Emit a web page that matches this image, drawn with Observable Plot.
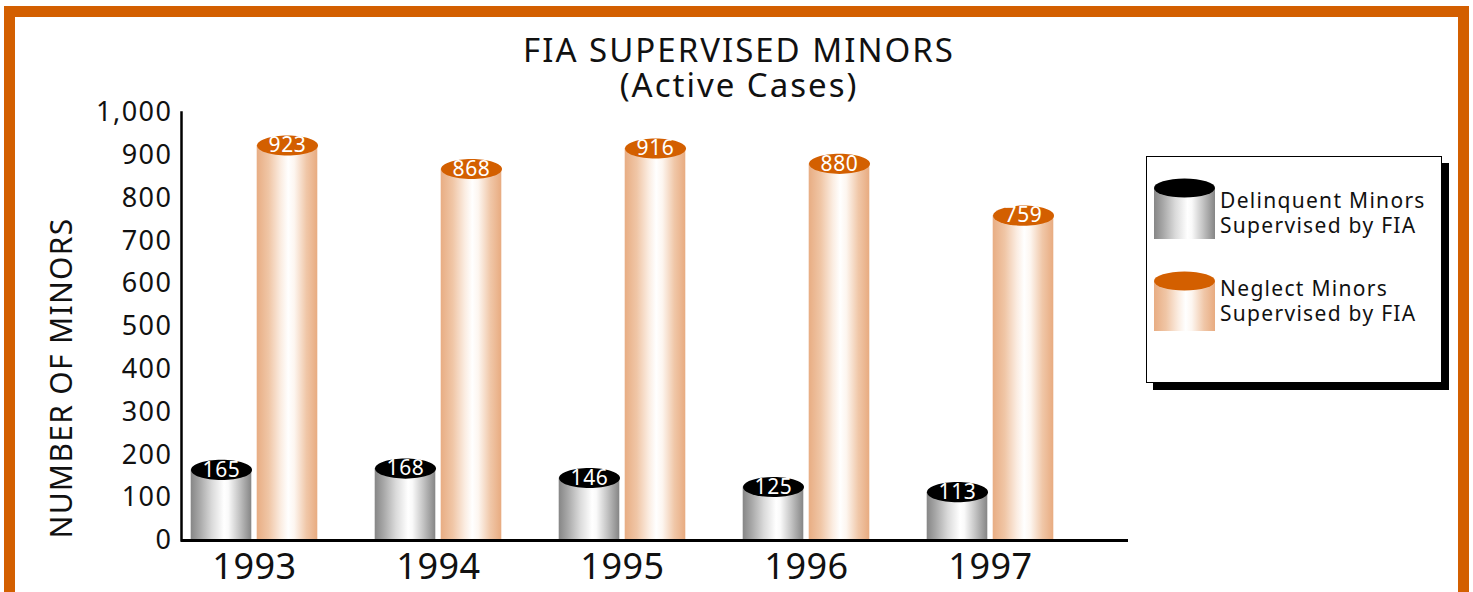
<!DOCTYPE html>
<html>
<head>
<meta charset="utf-8">
<script src="https://cdn.jsdelivr.net/npm/d3@7"></script>
<script src="https://cdn.jsdelivr.net/npm/@observablehq/plot@0.6"></script>
<style>
  html, body { margin: 0; padding: 0; background: #fff; }
  body { width: 1473px; height: 592px; overflow: hidden; position: relative; font-family: "Noto Sans", sans-serif; color: #111; }
  #frame { position: absolute; left: 4px; top: 6px; width: 1465px; height: 700px; border: 11px solid #D35F00; box-sizing: border-box; }
  #chart { position: absolute; left: 0; top: 0; }
  .title { position: absolute; left: 489px; width: 500px; text-align: center; font-size: 33px; line-height: 33px; height: 33px; letter-spacing: 2px; white-space: nowrap; }
  #ylabel { position: absolute; left: 60px; top: 378px; transform: translate(-50%, -50%) rotate(-90deg); font-size: 30px; white-space: nowrap; letter-spacing: 1.3px; }
  #legend { position: absolute; left: 1146px; top: 156px; width: 296px; height: 227px; box-sizing: border-box; border: 1px solid #000; background: #fff; box-shadow: 7px 7px 0 #000; }
</style>
</head>
<body>
<div id="frame"></div>
<div id="chart"></div>
<div class="title" style="top:33px">FIA SUPERVISED MINORS</div>
<div class="title" style="top:68px">(Active Cases)</div>
<div id="ylabel">NUMBER OF MINORS</div>
<div id="legend"></div>
<script>
// ---- data ----
const years = ["1993", "1994", "1995", "1996", "1997"];
const delinquent = [165, 168, 146, 125, 113];
const neglect = [923, 868, 916, 880, 759];
const seriesNames = [["Delinquent Minors", "Supervised by FIA"], ["Neglect Minors", "Supervised by FIA"]];
const yTicks = [0, 100, 200, 300, 400, 500, 600, 700, 800, 900, 1000];

const dRows = years.map((year, i) => ({year, value: delinquent[i]}));
const nRows = years.map((year, i) => ({year, value: neglect[i]}));

const ORANGE = "#D35F00";

// ellipse symbol for cylinder tops
const ellipse = {
  draw(ctx, size) {
    const rx = Math.sqrt(size / Math.PI), ry = rx * 0.33, k = 0.5523;
    ctx.moveTo(rx, 0);
    ctx.bezierCurveTo(rx, ry * k, rx * k, ry, 0, ry);
    ctx.bezierCurveTo(-rx * k, ry, -rx, ry * k, -rx, 0);
    ctx.bezierCurveTo(-rx, -ry * k, -rx * k, -ry, 0, -ry);
    ctx.bezierCurveTo(rx * k, -ry, rx, -ry * k, rx, 0);
    ctx.closePath();
  }
};

const W = 1473, H = 592;
const step = 184.4, bw = 61;
const inA = 28.7, inB = step - inA - bw;

const chart = Plot.plot({
  width: W, height: H,
  marginTop: 112, marginBottom: 52, marginLeft: 181, marginRight: 345,
  style: {fontFamily: "Noto Sans, sans-serif", color: "#111", background: "transparent"},
  x: {domain: years, range: [160.7, 160.7 + 5 * step], padding: 0, label: null},
  y: {domain: [0, 1000], label: null},
  marks: [
    Plot.barY(dRows, {x: "year", y: "value", fill: "url(#gradGray)", insetLeft: inA, insetRight: inB}),
    Plot.barY(nRows, {x: "year", y: "value", fill: "url(#gradOrange)", insetLeft: inB, insetRight: inA}),
    Plot.dot(dRows, {x: "year", y: "value", dx: -33, r: 30.5, symbol: ellipse, fill: "#000"}),
    Plot.dot(nRows, {x: "year", y: "value", dx: 33, r: 30.5, symbol: ellipse, fill: ORANGE}),
    Plot.text(dRows, {x: "year", y: "value", dx: -33, dy: 0, text: d => String(d.value), fill: "#fff", fontSize: 21}),
    Plot.text(nRows, {x: "year", y: "value", dx: 33, dy: 0, text: d => String(d.value), fill: "#fff", fontSize: 21}),
    Plot.axisY(yTicks, {tickSize: 0, tickPadding: 9, fontSize: 27, tickFormat: d3.format(","), label: null}),
    Plot.axisX({tickSize: 0, tickPadding: 13, fontSize: 36, label: null}),
    Plot.frame({anchor: "left", stroke: "#000", strokeWidth: 2.5}),
    Plot.ruleY([0], {stroke: "#000", strokeWidth: 3})
  ]
});

// gradients
const defsSvg = `
<defs>
  <linearGradient id="gradGray" x1="0" x2="1" y1="0" y2="0">
    <stop offset="0" stop-color="#868686"/>
    <stop offset="0.15" stop-color="#a8a8a8"/>
    <stop offset="0.35" stop-color="#dadada"/>
    <stop offset="0.55" stop-color="#ffffff"/>
    <stop offset="0.62" stop-color="#fafafa"/>
    <stop offset="0.8" stop-color="#c4c4c4"/>
    <stop offset="1" stop-color="#858585"/>
  </linearGradient>
  <linearGradient id="gradOrange" x1="0" x2="1" y1="0" y2="0">
    <stop offset="0" stop-color="#e8ad83"/>
    <stop offset="0.2" stop-color="#f0c6a6"/>
    <stop offset="0.4" stop-color="#fbede2"/>
    <stop offset="0.52" stop-color="#ffffff"/>
    <stop offset="0.62" stop-color="#fdf6f0"/>
    <stop offset="0.82" stop-color="#f0c7a8"/>
    <stop offset="1" stop-color="#e8ab80"/>
  </linearGradient>
</defs>`;
chart.insertAdjacentHTML("afterbegin", defsSvg);

// letter spacing tweaks on text groups (keep Plot's own transforms)
const sel = d3.select(chart);
sel.selectAll('g[aria-label="y-axis tick label"]').attr("letter-spacing", 1.5);
sel.selectAll('g[aria-label="x-axis tick label"]').attr("letter-spacing", 0.5);
sel.selectAll('g[aria-label="text"]').attr("letter-spacing", 0.7);
document.getElementById("chart").appendChild(chart);

// legend
const leg = d3.select("#legend").append("svg").attr("width", 294).attr("height", 225).style("display", "block");
const swatch = [
  {cy: 31, bottom: 82, grad: "url(#gradGray)", top: "#000", ty: 51},
  {cy: 124, bottom: 174, grad: "url(#gradOrange)", top: ORANGE, ty: 139}
];
swatch.forEach((s, i) => {
  leg.append("rect").attr("x", 7).attr("y", s.cy).attr("width", 61).attr("height", s.bottom - s.cy).attr("fill", s.grad);
  leg.append("ellipse").attr("cx", 37.5).attr("cy", s.cy).attr("rx", 30.5).attr("ry", 9.5).attr("fill", s.top);
  seriesNames[i].forEach((line, j) => {
    leg.append("text").attr("x", 73).attr("y", s.ty + j * 25).attr("font-size", 21).attr("letter-spacing", 1.3)
      .attr("fill", "#111").attr("font-family", "Noto Sans, sans-serif").text(line);
  });
});
</script>
</body>
</html>
